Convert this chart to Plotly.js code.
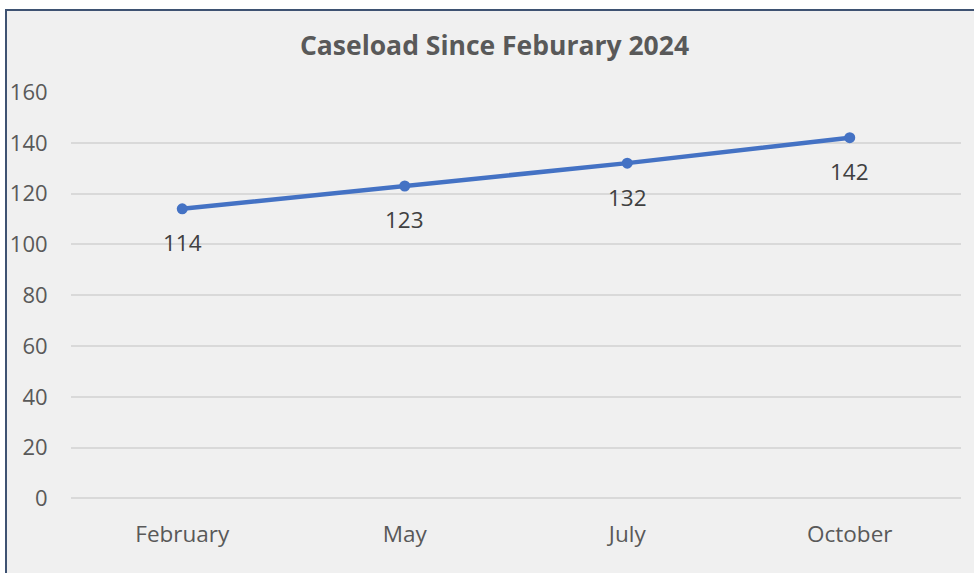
<!DOCTYPE html>
<html>
<head>
<meta charset="utf-8">
<script src="https://cdn.plot.ly/plotly-3.0.1.min.js"></script>
<style>
  html, body { margin: 0; padding: 0; background: #ffffff; width: 974px; height: 573px; overflow: hidden; }
  #frame { position: absolute; left: 5px; top: 9px; width: 969px; height: 564px; box-sizing: border-box;
           border-left: 2px solid #3e5272; border-top: 2px solid #3e5272; background: #f0f0f0; }
  #chart { width: 967px; height: 562px; }
</style>
</head>
<body>
<div id="frame"><div id="chart"></div></div>
<script>
const months = ["February", "May", "July", "October"];
const caseload = [114, 123, 132, 142];
const yTicks = [0, 20, 40, 60, 80, 100, 120, 140, 160];
const chartTitle = "Caseload Since Feburary 2024";

const fontFamily = "Open Sans, sans-serif";

const trace = {
  x: months,
  y: caseload,
  type: "scatter",
  mode: "lines+markers",
  line: { color: "#4472c4", width: 4.5 },
  marker: { color: "#4472c4", size: 11 },
  hoverinfo: "skip"
};

const annotations = months.map((m, i) => ({
  x: m, y: caseload[i], xref: "x", yref: "y",
  text: String(caseload[i]), showarrow: false,
  yshift: -34, font: { family: fontFamily, size: 22.5, color: "#404040" }
}));

const layout = {
  width: 967, height: 562,
  margin: { l: 64, r: 13, t: 81, b: 72 },
  paper_bgcolor: "rgba(0,0,0,0)",
  plot_bgcolor: "rgba(0,0,0,0)",
  showlegend: false,
  title: {
    text: chartTitle,
    x: 0.5 + 4 / 967, xref: "container", xanchor: "center",
    y: 1 - 35 / 562, yref: "container", yanchor: "middle",
    font: { family: fontFamily, size: 26.5, color: "#595959", weight: "bold" }
  },
  xaxis: {
    type: "category",
    range: [-0.5, 3.5],
    showgrid: false, zeroline: false, showline: false,
    ticks: "outside", ticklen: 13, tickcolor: "rgba(0,0,0,0)",
    tickfont: { family: fontFamily, size: 22.5, color: "#595959" }
  },
  yaxis: {
    range: [-1, 160],
    tickvals: yTicks,
    ticktext: yTicks.map(String),
    showgrid: true, gridcolor: "#d9d9d9", gridwidth: 2,
    zeroline: false, showline: false,
    ticks: "outside", ticklen: 18, tickcolor: "rgba(0,0,0,0)",
    tickfont: { family: fontFamily, size: 22, color: "#595959" }
  },
  annotations: annotations
};

Plotly.newPlot("chart", [trace], layout, { staticPlot: true, displayModeBar: false });
</script>
</body>
</html>
